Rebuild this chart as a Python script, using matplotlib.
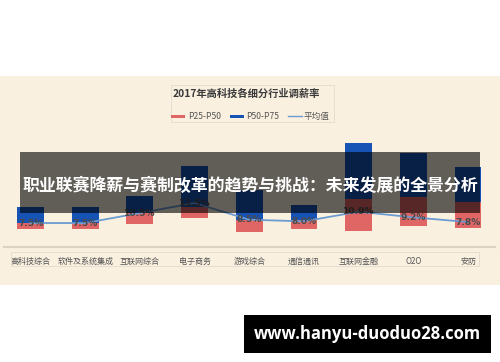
import matplotlib
matplotlib.use("Agg")
import matplotlib.pyplot as plt
from matplotlib.patches import Rectangle
from matplotlib.lines import Line2D

plt.rcParams['font.family'] = ['Noto Sans CJK SC', 'DejaVu Sans']

# data
categories = ['高科技综合', '软件及系统集成', '互联网综合', '电子商务', '游戏综合',
              '通信通讯', '互联网金融', 'O2O', '安防']
p25 = [5.7, 5.7, 7.2, 9.0, 4.8, 5.7, 5.1, 6.6, 6.0]
p50 = [7.5, 7.5, 10.5, 12.3, 8.4, 8.4, 14.7, 15.3, 13.8]
p75 = [12.3, 12.3, 15.6, 24.6, 17.5, 12.9, 31.5, 28.5, 24.3]
avg = [7.5, 7.5, 10.5, 13.5, 8.5, 8.0, 10.9, 9.2, 7.8]

title = '2017年高科技各细分行业调薪率'
legend_labels = ['P25-P50', 'P50-P75', '平均值']
banner = '职业联赛降薪与赛制改革的趋势与挑战：未来发展的全景分析'
watermark = 'www.hanyu-duoduo28.com'

RED = '#E06565'
BLUE = '#1753B5'
LINE = '#6C9BD2'
CREAM = '#FAF0E0'

W, H = 500, 362
fig = plt.figure(figsize=(W / 100, H / 100), dpi=100)
fig.patch.set_facecolor('white')


# helpers: pixel coords (from top-left) to figure fraction
def fx(x):
    return x / W


def fy(y):
    return 1 - y / H


# cream panel behind the chart
fig.patches.append(Rectangle((0, fy(285)), 1, fy(76) - fy(285), transform=fig.transFigure,
                             facecolor=CREAM, edgecolor='none', zorder=-2))

# the chart axes: y = 0 sits at pixel 248, ylim top 40 at pixel ~115
ax = fig.add_axes([0, fy(248), 1, fy(114.8) - fy(248)])
ax.set_facecolor('none')
ax.set_ylim(0, 40)
ax.set_xlim(-0.558, 8.585)
for s in ax.spines.values():
    s.set_visible(False)
ax.set_yticks([])

x = list(range(len(categories)))
low = [b - a for a, b in zip(p25, p50)]
high = [c - b for b, c in zip(p50, p75)]
ax.bar(x, low, bottom=p25, width=0.49, color=RED, zorder=2)
ax.bar(x, high, bottom=p50, width=0.49, color=BLUE, zorder=2)
ax.plot(x, avg, color=LINE, lw=1.3, zorder=3)
for xi, v in zip(x, avg):
    ax.text(xi, v, f'{v:.1f}%', ha='center', va='center', fontsize=6.6,
            color='#4A4A4A', zorder=4, fontweight='bold',
            family=['DejaVu Sans'])

ax.set_xticks(x)
ax.set_xticklabels(categories, fontsize=5.8, color='#555555')
ax.tick_params(axis='x', length=0, pad=6.5)

# baseline and tick label frame
fig.lines.append(Line2D([fx(4), fx(495)], [fy(247), fy(247)], transform=fig.transFigure,
                        color='#DCD3C3', lw=1.5, zorder=1))
fig.patches.append(Rectangle((fx(11), fy(266)), fx(479) - fx(11), fy(252) - fy(266),
                             transform=fig.transFigure, facecolor='none',
                             edgecolor='#E6DECF', lw=0.7, zorder=1))

# title and legend box
fig.patches.append(Rectangle((fx(171), fy(122)), fx(334) - fx(171), fy(85) - fy(122),
                             transform=fig.transFigure, facecolor='none',
                             edgecolor='#E6DECF', lw=0.7, zorder=1))
fig.text(fx(173), fy(94), title, fontsize=7.4, fontweight='bold', color='#3A3A3A',
         ha='left', va='center')
fig.patches.append(Rectangle((fx(171), fy(118)), fx(14), fy(115) - fy(118),
                             transform=fig.transFigure, facecolor=RED, edgecolor='none'))
fig.text(fx(188), fy(116), legend_labels[0], fontsize=6.2, color='#555555', va='center')
fig.patches.append(Rectangle((fx(230), fy(118)), fx(14), fy(115) - fy(118),
                             transform=fig.transFigure, facecolor=BLUE, edgecolor='none'))
fig.text(fx(246), fy(116), legend_labels[1], fontsize=6.2, color='#555555', va='center')
fig.lines.append(Line2D([fx(288), fx(302)], [fy(116.5), fy(116.5)], transform=fig.transFigure,
                        color=LINE, lw=1.0))
fig.text(fx(304), fy(116), legend_labels[2], fontsize=6.2, color='#555555', va='center')

# dark translucent banner over the chart
fig.patches.append(Rectangle((fx(20), fy(213)), fx(480) - fx(20), fy(152) - fy(213),
                             transform=fig.transFigure, facecolor='black', alpha=0.61,
                             edgecolor='none', zorder=5))
fig.text(fx(250), fy(186), banner, fontsize=12.2, fontweight='bold', color='white',
         ha='center', va='center', zorder=6)

# watermark box
fig.patches.append(Rectangle((fx(244), fy(353)), fx(491) - fx(244), fy(315) - fy(353),
                             transform=fig.transFigure, facecolor='black',
                             edgecolor='none', zorder=5))
fig.text(fx(367), fy(334), watermark, fontsize=12, fontweight='bold', color='white',
         family=['Open Sans', 'DejaVu Sans'], ha='center', va='center', zorder=6)

fig.savefig('out.png', dpi=100)
